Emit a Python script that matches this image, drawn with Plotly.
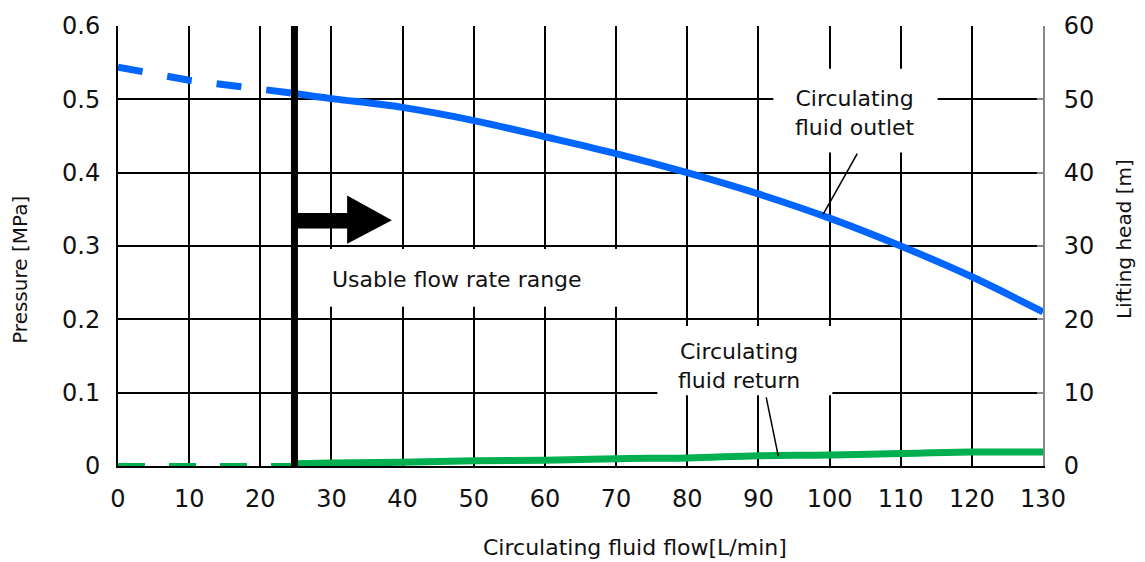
import plotly.graph_objects as go

# ---- data ----
flow_dashed = [0, 5, 10, 15, 20, 24.8]
outlet_dashed = [0.544, 0.535, 0.526, 0.520, 0.514, 0.508]
flow_solid = [24.8, 30, 40, 50, 60, 70, 80, 90, 100, 110, 120, 130]
outlet_solid = [0.508, 0.501, 0.489, 0.471, 0.449, 0.426, 0.400, 0.371, 0.338, 0.300, 0.258, 0.210]
return_dashed = [0, 0, 0, 0, 0, 0]
return_solid = [0.003, 0.004, 0.005, 0.007, 0.008, 0.010, 0.011, 0.014, 0.015, 0.017, 0.019, 0.019]
usable_min_flow = 24.8
x_ticks = list(range(0, 131, 10))
y_ticks = [0, 0.1, 0.2, 0.3, 0.4, 0.5, 0.6]
y2_ticks = [0, 10, 20, 30, 40, 50, 60]

BLUE = "#0066FF"
GREEN = "#00B050"
TICKFONT = dict(family="DejaVu Sans", size=24, color="#111")
LABELFONT = dict(family="DejaVu Sans", size=22, color="#111")

fig = go.Figure()
fig.add_trace(go.Scatter(x=flow_dashed, y=outlet_dashed, mode="lines",
                         line=dict(color=BLUE, width=7, dash="25px,25px"), hoverinfo="skip"))
fig.add_trace(go.Scatter(x=flow_solid, y=outlet_solid, mode="lines",
                         line=dict(color=BLUE, width=7, shape="spline"), hoverinfo="skip"))
fig.add_trace(go.Scatter(x=flow_dashed, y=return_dashed, mode="lines",
                         line=dict(color=GREEN, width=6, dash="27px,24px"), hoverinfo="skip"))
fig.add_trace(go.Scatter(x=flow_solid, y=return_solid, mode="lines",
                         line=dict(color=GREEN, width=7, shape="spline"), hoverinfo="skip"))
# usable range boundary
fig.add_trace(go.Scatter(x=[usable_min_flow, usable_min_flow], y=[0, 0.6], mode="lines",
                         line=dict(color="black", width=7), hoverinfo="skip"))
# dummy for right axis
fig.add_trace(go.Scatter(x=[0], y=[0], yaxis="y2", mode="lines", opacity=0, hoverinfo="skip"))

# arrow (shaft + head)
shaft_x = [usable_min_flow, 32.2]
shaft_y = [0.324, 0.345]
head_base_x = 32.2
head_y = [0.303, 0.369]
tip = (38.5, 0.335)
arrow_path = (f"M {shaft_x[0]},{shaft_y[0]} L {shaft_x[1]},{shaft_y[0]} L {head_base_x},{head_y[0]} "
              f"L {tip[0]},{tip[1]} L {head_base_x},{head_y[1]} L {shaft_x[1]},{shaft_y[1]} "
              f"L {shaft_x[0]},{shaft_y[1]} Z")

# label boxes (white, cover grid)
boxes = [
    (92.1, 115.2, 0.4276, 0.5416),   # outlet
    (75.8, 100.4, 0.0964, 0.191),    # return
    (25.6, 73.4, 0.217, 0.296),      # usable
]
shapes = [dict(type="rect", xref="x", yref="y", x0=b[0], x1=b[1], y0=b[2], y1=b[3],
               fillcolor="white", line=dict(width=0), layer="between") for b in boxes]
shapes.append(dict(type="path", xref="x", yref="y", path=arrow_path,
                   fillcolor="black", line=dict(width=0), layer="above"))
# leader lines
leaders = [((103.9, 0.426), (99.1, 0.343)), ((91.1, 0.0937), (92.8, 0.0136))]
for (a, b) in leaders:
    shapes.append(dict(type="line", xref="x", yref="y", x0=a[0], y0=a[1], x1=b[0], y1=b[1],
                       line=dict(color="black", width=1.5), layer="above"))

annotations = [
    dict(x=103.6, y=0.482, xref="x", yref="y", text="Circulating<br>fluid outlet",
         showarrow=False, font=LABELFONT, align="center"),
    dict(x=87.3, y=0.137, xref="x", yref="y", text="Circulating<br>fluid return",
         showarrow=False, font=LABELFONT, align="center"),
    dict(x=47.6, y=0.254, xref="x", yref="y", text="Usable flow rate range",
         showarrow=False, font=LABELFONT),
    dict(x=-0.106, y=0.4457, xref="paper", yref="paper", text="Pressure [MPa]",
         xanchor="center", yanchor="middle",
         textangle=-90, showarrow=False, font=dict(family="DejaVu Sans", size=20, color="#111")),
    dict(x=1.0876, y=0.5158, xref="paper", yref="paper", text="Lifting head [m]",
         xanchor="center", yanchor="middle",
         textangle=-90, showarrow=False, font=dict(family="DejaVu Sans", size=20, color="#111")),
    dict(x=0.5589, y=-0.1855, xref="paper", yref="paper", text="Circulating fluid flow[L/min]",
         xanchor="center", yanchor="middle",
         showarrow=False, font=dict(family="DejaVu Sans", size=22, color="#111")),
]

fig.update_layout(
    width=1145, height=562,
    margin=dict(l=118, r=102, t=24, b=96),
    paper_bgcolor="white", plot_bgcolor="white",
    showlegend=False,
    shapes=shapes, annotations=annotations,
    xaxis=dict(range=[0, 130], tickvals=x_ticks, showgrid=True, gridcolor="black", gridwidth=2,
               showline=True, linecolor="black", linewidth=2, ticks="", zeroline=False,
               tickfont=TICKFONT, ticklabelstandoff=10, fixedrange=True),
    yaxis=dict(range=[0, 0.6], tickvals=y_ticks, ticktext=["0", "0.1", "0.2", "0.3", "0.4", "0.5", "0.6"],
               showgrid=True, gridcolor="black", gridwidth=2,
               showline=True, linecolor="black", linewidth=2, ticks="", zeroline=False,
               tickfont=TICKFONT, ticklabelstandoff=11),
    yaxis2=dict(range=[0, 60], tickvals=y2_ticks, overlaying="y", side="right", showgrid=False,
                showline=True, linecolor="#888", linewidth=2, ticks="inside", ticklen=6,
                tickcolor="#888", tickwidth=1.5, zeroline=False, tickfont=TICKFONT,
                ticklabelstandoff=14),
)

fig.write_html("out.html", config={"displayModeBar": False},
               post_script="document.body.style.margin='0px';")
